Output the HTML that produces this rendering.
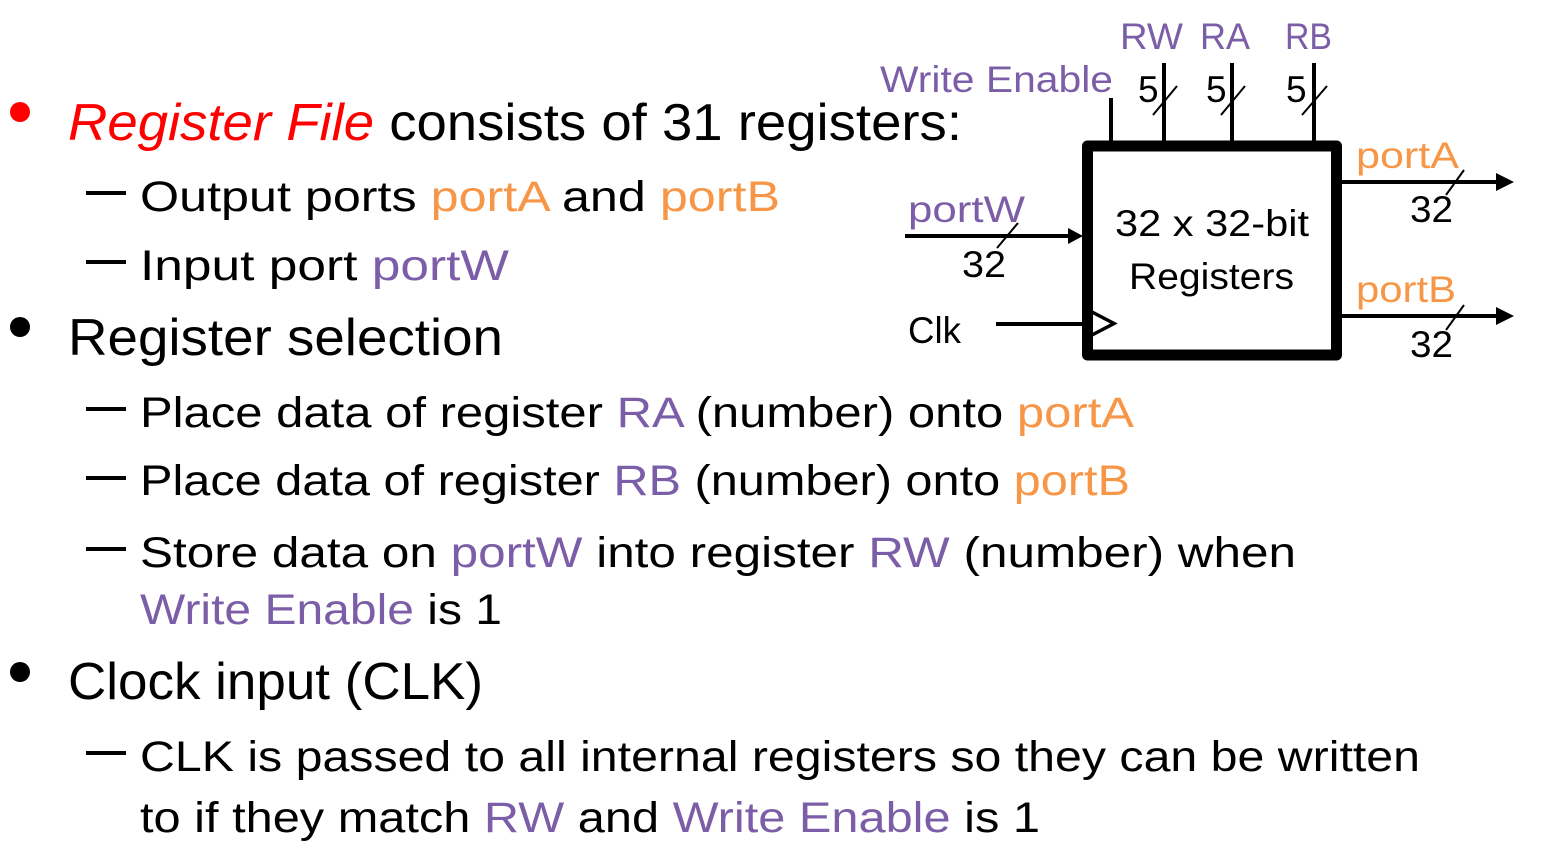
<!DOCTYPE html>
<html><head><meta charset="utf-8"><style>
html,body{margin:0;padding:0;background:#fff;}
svg{display:block;}
text{font-family:"Liberation Sans",sans-serif;}
.m{font-size:52px;}
.s{font-size:43px;}
.d{font-size:37px;}
.p{fill:#7b5ea7;}
.o{fill:#f79646;}
</style></head><body>
<svg width="1564" height="852" viewBox="0 0 1564 852" xmlns="http://www.w3.org/2000/svg">
<!-- bullets -->
<circle cx="20" cy="112" r="10" fill="#ff0000"/>
<circle cx="20" cy="327" r="10" fill="#000"/>
<circle cx="20" cy="672" r="10" fill="#000"/>
<!-- dashes -->
<g fill="#000">
<rect x="86" y="191" width="40" height="4"/>
<rect x="86" y="260" width="40" height="4"/>
<rect x="86" y="407" width="40" height="4"/>
<rect x="86" y="476" width="40" height="4"/>
<rect x="86" y="547" width="40" height="4"/>
<rect x="86" y="751" width="40" height="4"/>
</g>
<g fill="#000">
<text class="m" x="68" y="140" textLength="894" lengthAdjust="spacingAndGlyphs"><tspan fill="#ff0000" font-style="italic">Register File</tspan> consists of 31 registers:</text>
<text class="s" x="140" y="211" textLength="640" lengthAdjust="spacingAndGlyphs">Output ports <tspan class="o">portA</tspan> and <tspan class="o">portB</tspan></text>
<text class="s" x="140" y="280" textLength="369" lengthAdjust="spacingAndGlyphs">Input port <tspan class="p">portW</tspan></text>
<text class="m" x="68" y="355" textLength="435" lengthAdjust="spacingAndGlyphs">Register selection</text>
<text class="s" x="140" y="427" textLength="994" lengthAdjust="spacingAndGlyphs">Place data of register <tspan class="p">RA</tspan> (number) onto <tspan class="o">portA</tspan></text>
<text class="s" x="140" y="495" textLength="990" lengthAdjust="spacingAndGlyphs">Place data of register <tspan class="p">RB</tspan> (number) onto <tspan class="o">portB</tspan></text>
<text class="s" x="140" y="567" textLength="1156" lengthAdjust="spacingAndGlyphs">Store data on <tspan class="p">portW</tspan> into register <tspan class="p">RW</tspan> (number) when</text>
<text class="s" x="140" y="624" textLength="362" lengthAdjust="spacingAndGlyphs"><tspan class="p">Write Enable</tspan> is 1</text>
<text class="m" x="68" y="699" textLength="415" lengthAdjust="spacingAndGlyphs">Clock input (CLK)</text>
<text class="s" x="140" y="771" textLength="1280" lengthAdjust="spacingAndGlyphs">CLK is passed to all internal registers so they can be written</text>
<text class="s" x="140" y="832" textLength="900" lengthAdjust="spacingAndGlyphs">to if they match <tspan class="p">RW</tspan> and <tspan class="p">Write Enable</tspan> is 1</text>
</g>
<!-- diagram -->
<g stroke="#000" fill="none">
<rect x="1087.5" y="146" width="249" height="209" stroke-width="11" stroke-linejoin="round"/>
<line x1="1111" y1="98" x2="1111" y2="142" stroke-width="4"/>
<line x1="1164" y1="63" x2="1164" y2="142" stroke-width="4"/>
<line x1="1232" y1="63" x2="1232" y2="142" stroke-width="4"/>
<line x1="1314" y1="63" x2="1314" y2="142" stroke-width="4"/>
<line x1="1153" y1="115" x2="1177" y2="86" stroke-width="2"/>
<line x1="1221" y1="115" x2="1245" y2="86" stroke-width="2"/>
<line x1="1302" y1="115" x2="1327" y2="86" stroke-width="2"/>
<line x1="905" y1="236" x2="1072" y2="236" stroke-width="4"/>
<line x1="997" y1="248" x2="1018" y2="223" stroke-width="2"/>
<line x1="996" y1="324" x2="1082" y2="324" stroke-width="4"/>
<polyline points="1092,312 1114,323.5 1092,335" stroke-width="3.5"/>
<line x1="1342" y1="182" x2="1500" y2="182" stroke-width="4"/>
<line x1="1446" y1="195" x2="1464" y2="170" stroke-width="2"/>
<line x1="1342" y1="316" x2="1500" y2="316" stroke-width="4"/>
<line x1="1446" y1="330" x2="1464" y2="305" stroke-width="2"/>
</g>
<g fill="#000">
<polygon points="1068,228 1083,236 1068,244"/>
<polygon points="1496,173 1514,182 1496,191"/>
<polygon points="1496,307 1514,316 1496,325"/>
</g>
<g fill="#000">
<text class="d p" x="880" y="92" textLength="233" lengthAdjust="spacingAndGlyphs">Write Enable</text>
<text class="d p" x="1120" y="49" textLength="63" lengthAdjust="spacingAndGlyphs">RW</text>
<text class="d p" x="1200" y="49" textLength="50" lengthAdjust="spacingAndGlyphs">RA</text>
<text class="d p" x="1285" y="49" textLength="47" lengthAdjust="spacingAndGlyphs">RB</text>
<text class="d" x="1138" y="102">5</text>
<text class="d" x="1206" y="102">5</text>
<text class="d" x="1286" y="102">5</text>
<text class="d" x="1115" y="236" textLength="194" lengthAdjust="spacingAndGlyphs">32 x 32-bit</text>
<text class="d" x="1129" y="289" textLength="165" lengthAdjust="spacingAndGlyphs">Registers</text>
<text class="d p" x="908" y="222" textLength="117" lengthAdjust="spacingAndGlyphs">portW</text>
<text class="d" x="962" y="277" textLength="44" lengthAdjust="spacingAndGlyphs">32</text>
<text class="d" x="908" y="343" textLength="53" lengthAdjust="spacingAndGlyphs">Clk</text>
<text class="d o" x="1356" y="168" textLength="103" lengthAdjust="spacingAndGlyphs">portA</text>
<text class="d" x="1410" y="222" textLength="43" lengthAdjust="spacingAndGlyphs">32</text>
<text class="d o" x="1356" y="302" textLength="100" lengthAdjust="spacingAndGlyphs">portB</text>
<text class="d" x="1410" y="357" textLength="43" lengthAdjust="spacingAndGlyphs">32</text>
</g>
</svg>
</body></html>
